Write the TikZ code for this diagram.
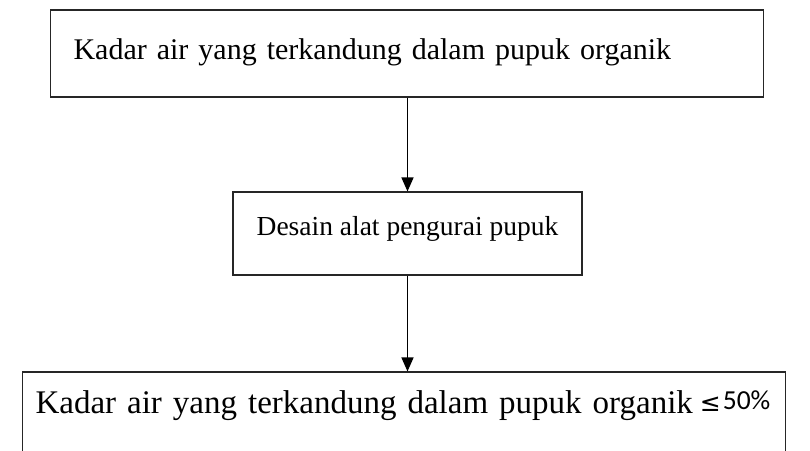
\documentclass[tikz,border=0pt]{standalone}
\usepackage{fontspec}
\setmainfont{Liberation Serif}
\newfontfamily\calibri{Carlito}
\newfontfamily\symfont{DejaVu Sans}
\usetikzlibrary{arrows.meta}
\tikzset{
  box/.style={draw=black!85, line width=1.1pt, fill=white, inner ysep=0pt},
  flow/.style={-{Triangle[length=14pt,width=12pt]}, line width=1.5pt, color=black},
}
\begin{document}
\begin{tikzpicture}[x=1pt,y=1pt]
\useasboundingbox (0,0) rectangle (810,450);
\fill[white] (0,0) rectangle (810,450);
\clip (0,0) rectangle (810,450);
\node[box,font=\fontsize{30}{36}\selectfont,anchor=base west,inner xsep=23pt,text width=667pt,align=left,text height=50pt,text depth=37pt] (kadar) at (50,390) {\mbox{Kadar air yang terkandung dalam pupuk organik}};
\node[box,font=\fontsize{27.5}{33}\selectfont,anchor=base,minimum width=349pt,text height=44pt,text depth=39pt] (desain) at (407.5,214) {Desain alat pengurai pupuk};
\node[box,font=\fontsize{33}{40}\selectfont,anchor=base west,inner xsep=13pt,text width=737pt,align=left,text height=41pt,text depth=60pt] (hasil) at (22,37) {\mbox{Kadar air yang terkandung dalam pupuk organik\kern7pt{\symfont\fontsize{25}{30}\selectfont\raisebox{2pt}{≤}}\kern2pt{\calibri\fontsize{27.5}{33}\selectfont\raisebox{4pt}{50\%}}}};
\draw[flow] (kadar.south -| desain.north)--(desain.north);\draw[flow] (desain.south)--(desain.south |- hasil.north);
\end{tikzpicture}
\end{document}
